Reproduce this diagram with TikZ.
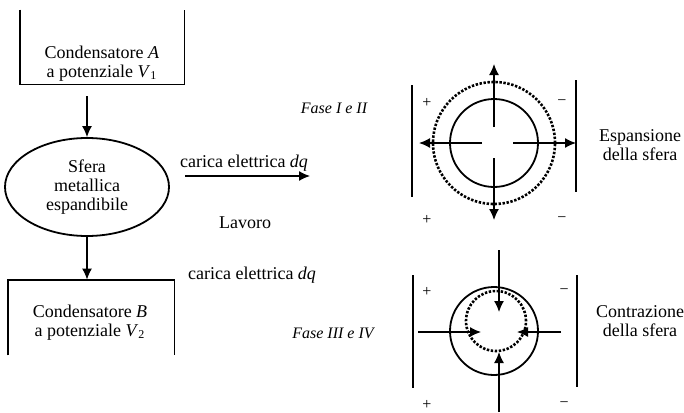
\documentclass[tikz,border=0pt]{standalone}
\usepackage{fontspec}
\setmainfont{Liberation Serif}
\usetikzlibrary{arrows.meta,shapes.geometric}

\tikzset{
  arr/.style={-{Latex[length=5.5pt,width=5pt]}, line width=0.65pt},
  box/.style={line width=0.9pt},
  txt/.style={font=\fontsize{9}{9.5}\selectfont, align=center},
  fase/.style={font=\fontsize{8}{9}\selectfont\itshape},
  sgn/.style={font=\fontsize{8}{9}\selectfont},
  plate/.style={line width=1.1pt},
  dots/.style={line width=1.3pt, dash pattern=on 1.2pt off 0.8pt}
}

\begin{document}
\begin{tikzpicture}[x=0.5pt, y=-0.5pt]
\useasboundingbox (0,0) rectangle (684,412);

% capacitor A, open at the top
\node (boxA) [minimum width=82pt, minimum height=37pt, inner sep=0] at (102,47) {};
\draw [box] (boxA.north west) -- (boxA.south west) -- (boxA.south east) -- (boxA.north east);
\node [txt] (labA) at (102,64) {Condensatore \textit{A}\\a potenziale \textit{V}\textsubscript{1}};

% sphere
\node (sfera) [ellipse, draw, box, txt, minimum width=82pt, minimum height=49pt, inner sep=0] at (87,187) {Sfera\\metallica\\espandibile};

% capacitor B, open at the bottom
\node (boxB) [minimum width=83pt, minimum height=37.5pt, inner sep=0] at (91,317.5) {};
\draw [box] (boxB.south west) -- (boxB.north west) -- (boxB.north east) -- (boxB.south east);
\node [txt] (labB) at (90,323) {Condensatore \textit{B}\\a potenziale \textit{V}\textsubscript{2}};

\draw [arr] ([yshift=-6pt]boxA.south -| sfera.north) -- (sfera.north);
\draw [arr] (sfera.south) -- (sfera.south |- boxB.north);

% transfers
\node [txt] (dqA) at (244,163) {carica elettrica \textit{dq}};
\coordinate (qA0) at (185,176);
\coordinate (qA1) at (310,176);
\draw [arr] (qA0) -- (qA1);
\node [txt] (lavoro) at (245,223) {Lavoro};
\node [txt] (dqB) at (252,275) {carica elettrica \textit{dq}};

\node [fase] (faseA) at (334,108) {Fase I e II};
\node [fase] (faseB) at (333,333) {Fase III e IV};

% expansion
\coordinate (cA) at (494,143);
\draw [plate] (412,85) -- (412,197);
\draw [plate] (576,80) -- (576,192);
\draw [box] (cA) circle [radius=22pt];
\draw [dots] (cA) circle [radius=30.5pt];
\foreach \a / \r / \R in {270/16/79, 90/15/77, 180/12/75, 0/19/82}
    \draw [arr] ([shift={(\a:\r)}]cA) -- ([shift={(\a:\R)}]cA);
\foreach \y in {103,220}{
    \node [sgn] at (427,\y) {+};
    \node [sgn] at (562,\y) {−};
}
\node [txt] (espA) at (640,145) {Espansione\\della sfera};

% contraction
\coordinate (cB) at (494,331);
\coordinate (kB) at (499,332);
\draw [plate] (413,275) -- (413,388);
\draw [plate] (577,275) -- (577,387);
\draw [box] (cB) circle [radius=22pt];
\draw [dots] (496,321) circle [radius=15pt];
\foreach \a / \R / \r in {270/82/20, 90/80/20, 180/81/18, 0/62/18}
    \draw [arr] ([shift={(\a:\R)}]kB) -- ([shift={(\a:\r)}]kB);
\foreach \y in {292,405}{
    \node [sgn] at (427,\y) {+};
    \node [sgn] at (564,\y) {−};
}
\node [txt] (conB) at (640,321) {Contrazione\\della sfera};

\end{tikzpicture}
\end{document}
